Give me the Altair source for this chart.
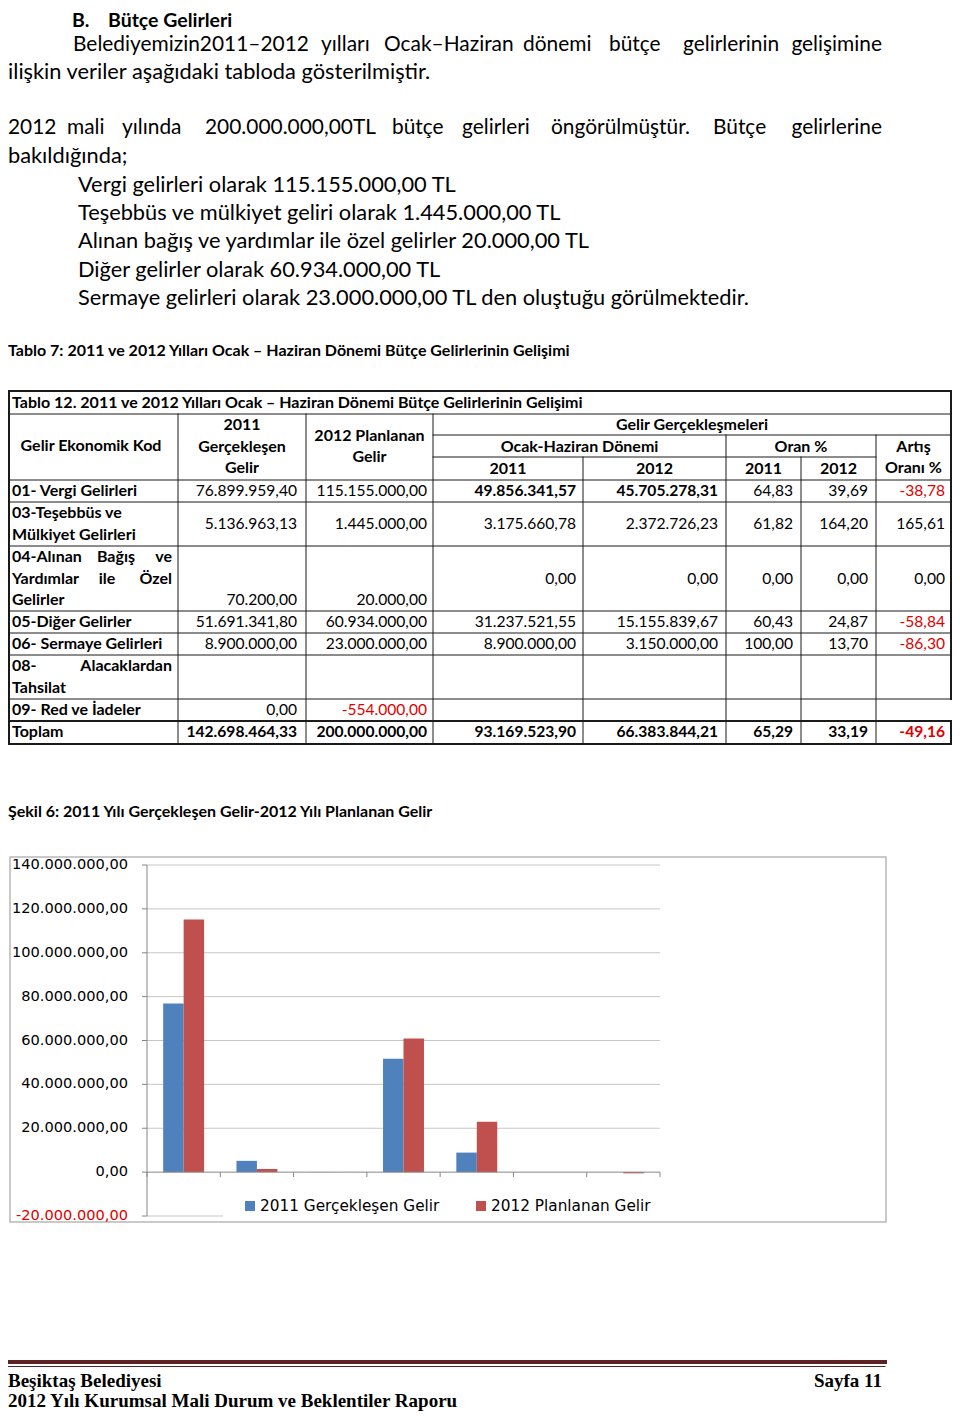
import altair as alt
import pandas as pd

OFF = 8  # page margin: page coordinate -> chart coordinate


def P(v):
    return v - OFF


BODY = "Lato"
CHARTF = "DejaVu Sans"
SERIF = "Liberation Serif"
BLUE = "#4f81bd"
RED = "#c0504d"
NEG = "#e00000"
INK = "#000000"

# ------------------------------------------------------------------ data
baslik = ["B.", "Bütçe Gelirleri"]
p1_kelimeler = ["Belediyemizin2011–2012", "yılları", "Ocak–Haziran", "dönemi",
                "bütçe", "gelirlerinin", "gelişimine"]
p1_satir2 = "ilişkin veriler aşağıdaki tabloda gösterilmiştir."
p2_kelimeler = ["2012", "mali", "yılında", "200.000.000,00TL", "bütçe", "gelirleri",
                "öngörülmüştür.", "Bütçe", "gelirlerine"]
p2_satir2 = "bakıldığında;"
kalemler = [
    "Vergi gelirleri olarak 115.155.000,00 TL",
    "Teşebbüs ve mülkiyet geliri olarak  1.445.000,00 TL",
    "Alınan bağış ve yardımlar ile özel gelirler  20.000,00 TL",
    "Diğer gelirler olarak  60.934.000,00 TL",
    "Sermaye gelirleri olarak  23.000.000,00 TL den oluştuğu görülmektedir.",
]
tablo_basligi = "Tablo 7: 2011 ve 2012 Yılları Ocak – Haziran Dönemi Bütçe Gelirlerinin Gelişimi"
tablo_ic_baslik = "Tablo 12. 2011 ve 2012 Yılları Ocak – Haziran Dönemi Bütçe Gelirlerinin Gelişimi"
sekil_basligi = "Şekil 6: 2011 Yılı Gerçekleşen Gelir-2012 Yılı Planlanan Gelir"

# table header texts
h_kod = "Gelir Ekonomik Kod"
h_gerc = ["2011", "Gerçekleşen", "Gelir"]
h_plan = ["2012 Planlanan", "Gelir"]
h_grup = "Gelir Gerçekleşmeleri"
h_donem = "Ocak-Haziran Dönemi"
h_oran = "Oran %"
h_artis = ["Artış", "Oranı %"]
h_yillar = ["2011", "2012", "2011", "2012"]

# table rows
satir_etiketleri = [
    [["01- Vergi Gelirleri"]],
    [["03-Teşebbüs ve"], ["Mülkiyet Gelirleri"]],
    [["04-Alınan", "Bağış", "ve"], ["Yardımlar", "ile", "Özel"], ["Gelirler"]],
    [["05-Diğer Gelirler"]],
    [["06- Sermaye Gelirleri"]],
    [["08-", "Alacaklardan"], ["Tahsilat"]],
    [["09- Red ve İadeler"]],
    [["Toplam"]],
]
gerceklesen_2011 = ["76.899.959,40", "5.136.963,13", "70.200,00", "51.691.341,80",
                    "8.900.000,00", "", "0,00", "142.698.464,33"]
planlanan_2012 = ["115.155.000,00", "1.445.000,00", "20.000,00", "60.934.000,00",
                  "23.000.000,00", "", "-554.000,00", "200.000.000,00"]
donem_2011 = ["49.856.341,57", "3.175.660,78", "0,00", "31.237.521,55",
              "8.900.000,00", "", "", "93.169.523,90"]
donem_2012 = ["45.705.278,31", "2.372.726,23", "0,00", "15.155.839,67",
              "3.150.000,00", "", "", "66.383.844,21"]
oran_2011 = ["64,83", "61,82", "0,00", "60,43", "100,00", "", "", "65,29"]
oran_2012 = ["39,69", "164,20", "0,00", "24,87", "13,70", "", "", "33,19"]
artis_orani = ["-38,78", "165,61", "0,00", "-58,84", "-86,30", "", "", "-49,16"]
kalin_hucreler = {(0, 2), (0, 3)}  # (row, value column) drawn bold; last row all bold

# chart data
kodlar = ["01", "03", "04", "05", "06", "08", "09"]
seriler = ["2011 Gerçekleşen Gelir", "2012 Planlanan Gelir"]
gelir_2011 = [76899959.40, 5136963.13, 70200.00, 51691341.80, 8900000.00, None, 0.0]
gelir_2012 = [115155000.0, 1445000.0, 20000.0, 60934000.0, 23000000.0, None, -554000.0]
y_tick_degerleri = [-20000000, 0, 20000000, 40000000, 60000000, 80000000,
                    100000000, 120000000, 140000000]
y_tick_etiketleri = ["-20.000.000,00", "0,00", "20.000.000,00", "40.000.000,00",
                     "60.000.000,00", "80.000.000,00", "100.000.000,00",
                     "120.000.000,00", "140.000.000,00"]

footer_sol = ["Beşiktaş Belediyesi", "2012 Yılı Kurumsal Mali Durum ve Beklentiler Raporu"]
footer_sag = "Sayfa 11"

# ------------------------------------------------------------------ helpers
ONE = pd.DataFrame({"k": [0]})


def text_layer(rows, size, weight="normal", align="left", font=BODY):
    df = pd.DataFrame(rows, columns=["t", "x", "y", "c"])
    df["x"] = df["x"] - OFF
    df["y"] = df["y"] - OFF
    return alt.Chart(df).mark_text(
        font=font, fontSize=size, fontWeight=weight, align=align, baseline="middle"
    ).encode(
        x=alt.X("x:Q", scale=None, axis=None),
        y=alt.Y("y:Q", scale=None, axis=None),
        text=alt.Text("t:N"),
        color=alt.Color("c:N", scale=None, legend=None),
    )


def segs_layer(segs, color):
    df = pd.DataFrame(segs, columns=["x", "x2", "y", "y2", "w"])
    for c in ["x", "x2", "y", "y2"]:
        df[c] = df[c] - OFF
    return alt.Chart(df).mark_rule(color=color, strokeCap="square").encode(
        x=alt.X("x:Q", scale=None, axis=None), x2="x2:Q",
        y=alt.Y("y:Q", scale=None, axis=None), y2="y2:Q",
        strokeWidth=alt.StrokeWidth("w:Q", scale=None, legend=None),
    )


layers = []
LEFT = 8  # leftmost reachable page x

# ------------------------------------------------------------------ prose
BODY_SIZE = 21.8
JUST_SIZE = 20.9
layers.append(text_layer([(baslik[0], 72, 20.5, INK), (baslik[1], 108, 20.5, INK)], 19.5, "bold"))

P1_X = [73, 321, 384, 523, 609, 683]
P2_X = [LEFT, 67, 122, 205, 392, 462, 551, 713]
RIGHT = 882
L1_Y = 45
just_left, just_right, prose_left = [], [], []
for w, x in zip(p1_kelimeler[:-1], P1_X):
    just_left.append((w, x, L1_Y, INK))
just_right.append((p1_kelimeler[-1], RIGHT, L1_Y, INK))
prose_left.append((p1_satir2, LEFT, 71.5, INK))
for w, x in zip(p2_kelimeler[:-1], P2_X):
    just_left.append((w, x, 128, INK))
just_right.append((p2_kelimeler[-1], RIGHT, 128, INK))
prose_left.append((p2_satir2, LEFT, 156, INK))
for i, k in enumerate(kalemler):
    prose_left.append((k, 78, 185 + i * 28.2, INK))
layers.append(text_layer(prose_left, BODY_SIZE))
layers.append(text_layer(just_left, JUST_SIZE))
layers.append(text_layer(just_right, JUST_SIZE, align="right"))
layers.append(text_layer([(tablo_basligi, LEFT, 351, INK), (sekil_basligi, LEFT, 812, INK)],
                         16, "bold"))

# ------------------------------------------------------------------ table
TL = 9
TR = 951
ROWS = [480, 502, 546, 611, 633, 655, 699, 721, 744]
NUM_RIGHT = [297, 427, 576, 718, 793, 868, TR - 6]
PITCH = 21.7
LAB_X = 12
TXT = 16
NUM = 15.6

segs = []
# outer frame
segs += [(TL, TR, 391, 391, 2), (TL, TL, 391, 744, 2), (TR, TR, 391, 699, 2),
         (TL, TR, 744, 744, 2), (TR, TR, 721, 744, 2), (TL, TR, 721, 721, 2)]
# header lines
segs += [(TL, TR, 414, 414, 1), (433, TR, 435, 435, 1), (433, 876, 457, 457, 1),
         (TL, TR, 480, 480, 1)]
for yy in ROWS[1:-2]:
    segs.append((TL, TR, yy, yy, 1))
for xx in [178, 306, 433]:
    segs.append((xx, xx, 414, 744, 1))
segs += [(583, 583, 457, 744, 1), (726, 726, 435, 744, 1), (801, 801, 457, 744, 1),
         (876, 876, 435, 744, 1)]
layers.append(segs_layer(segs, "#1a1a1a"))

hdr = [(tablo_ic_baslik, LAB_X, 402.5, INK)]
layers.append(text_layer(hdr, TXT, "bold"))
hdr_c = [(h_kod, 91, 446, INK)]
for i, t in enumerate(h_gerc):
    hdr_c.append((t, 242, 425 + i * PITCH, INK))
for i, t in enumerate(h_plan):
    hdr_c.append((t, 369.5, 435.5 + i * PITCH, INK))
hdr_c.append((h_grup, (433 + TR) / 2, 425, INK))
hdr_c.append((h_donem, 579.5, 446.5, INK))
hdr_c.append((h_oran, 801, 446.5, INK))
for i, t in enumerate(h_artis):
    hdr_c.append((t, (876 + TR) / 2, 446.5 + i * PITCH, INK))
for t, (a, b) in zip(h_yillar, [(433, 583), (583, 726), (726, 801), (801, 876)]):
    hdr_c.append((t, (a + b) / 2, 468.5, INK))
layers.append(text_layer(hdr_c, TXT, "bold", align="center"))

lab_l, lab_c, lab_r = [], [], []
MID_WORD_X = {(2, 0): 116, (2, 1): 107}
for r, lines in enumerate(satir_etiketleri):
    top = ROWS[r] if r < 7 else 721
    for k, words in enumerate(lines):
        yy = top + 11 + k * PITCH
        lab_l.append((words[0], LAB_X, yy, INK))
        if len(words) > 1:
            lab_r.append((words[-1], 172, yy, INK))
        if len(words) == 3:
            lab_c.append((words[1], MID_WORD_X[(r, k)], yy, INK))
layers.append(text_layer(lab_l, TXT, "bold"))
layers.append(text_layer(lab_c, TXT, "bold", align="center"))
layers.append(text_layer(lab_r, TXT, "bold", align="right"))

value_cols = [gerceklesen_2011, planlanan_2012, donem_2011, donem_2012,
              oran_2011, oran_2012, artis_orani]
num_reg, num_bold = [], []
for r, lines in enumerate(satir_etiketleri):
    top = ROWS[r] if r < 7 else 721
    n = len(lines)
    for c, col in enumerate(value_cols):
        v = col[r]
        if not v:
            continue
        if n == 3:
            yy = top + 11 + (2 if c < 2 else 1) * PITCH
        else:
            yy = top + 11 + (n - 1) * PITCH / 2
        colr = NEG if v.startswith("-") else INK
        item = (v, NUM_RIGHT[c], yy, colr)
        if r == 7 or (r, c) in kalin_hucreler:
            num_bold.append(item)
        else:
            num_reg.append(item)
layers.append(text_layer(num_reg, NUM, "normal", align="right"))
layers.append(text_layer(num_bold, NUM, "bold", align="right"))

# ------------------------------------------------------------------ bar chart
xscale = alt.Scale(domain=kodlar, range=[P(147), P(660)], paddingInner=0, paddingOuter=0)
yscale = alt.Scale(domain=[-20000000, 140000000], range=[P(1216), P(865)], nice=False, zero=False)

frame = alt.Chart(ONE).mark_rect(fillOpacity=0, stroke="#b8b8b8", strokeWidth=1.5).encode(
    x=alt.value(P(10)), x2=alt.value(P(886)), y=alt.value(P(857)), y2=alt.value(P(1222)))
layers.append(frame)

grid_df = pd.DataFrame({"v": [v for v in y_tick_degerleri if v > 0]})
layers.append(alt.Chart(grid_df).mark_rule(color="#c6c6c6", strokeWidth=1).encode(
    y=alt.Y("v:Q", scale=yscale, axis=None), x=alt.value(P(147)), x2=alt.value(P(660))))
neg_df = pd.DataFrame({"v": [y_tick_degerleri[0]]})
layers.append(alt.Chart(neg_df).mark_rule(color="#c6c6c6", strokeWidth=1).encode(
    y=alt.Y("v:Q", scale=yscale, axis=None), x=alt.value(P(147)), x2=alt.value(P(223))))

bar_df = pd.DataFrame({
    "kod": kodlar * 2,
    "seri": [seriler[0]] * len(kodlar) + [seriler[1]] * len(kodlar),
    "deger": gelir_2011 + gelir_2012,
}).dropna()
layers.append(alt.Chart(bar_df).mark_bar().encode(
    x=alt.X("kod:N", scale=xscale, axis=None, sort=kodlar),
    xOffset=alt.XOffset("seri:N", sort=seriler,
                        scale=alt.Scale(domain=seriler, paddingInner=0, paddingOuter=0.79)),
    y=alt.Y("deger:Q", scale=yscale, axis=None),
    y2=alt.datum(0),
    color=alt.Color("seri:N", scale=alt.Scale(domain=seriler, range=[BLUE, RED]), legend=None),
))

# axes
tick_df = pd.DataFrame({"v": y_tick_degerleri, "lab": y_tick_etiketleri,
                        "c": [NEG if v < 0 else INK for v in y_tick_degerleri]})
layers.append(alt.Chart(tick_df).mark_rule(color="#868686").encode(
    y=alt.Y("v:Q", scale=yscale, axis=None), x=alt.value(P(142)), x2=alt.value(P(147))))
layers.append(alt.Chart(ONE).mark_rule(color="#868686").encode(
    x=alt.value(P(147)),
    y=alt.Y(datum=140000000, scale=yscale, axis=None), y2=alt.datum(-20000000)))
layers.append(alt.Chart(ONE).mark_rule(color="#868686").encode(
    y=alt.Y(datum=0, scale=yscale, axis=None), x=alt.value(P(147)), x2=alt.value(P(660))))
kod_df = pd.DataFrame({"kod": kodlar})
layers.append(alt.Chart(kod_df).mark_rule(color="#868686").encode(
    x=alt.X("kod:N", scale=xscale, axis=None, bandPosition=0, sort=kodlar),
    y=alt.Y(datum=0, scale=yscale, axis=None), y2=alt.value(P(1177))))
layers.append(alt.Chart(pd.DataFrame({"kod": [kodlar[-1]]})).mark_rule(color="#868686").encode(
    x=alt.X("kod:N", scale=xscale, axis=None, bandPosition=1, sort=kodlar),
    y=alt.Y(datum=0, scale=yscale, axis=None), y2=alt.value(P(1177))))
layers.append(alt.Chart(tick_df).mark_text(font=CHARTF, fontSize=14.6, align="right",
                                           baseline="middle").encode(
    y=alt.Y("v:Q", scale=yscale, axis=None), x=alt.value(P(128)), text="lab:N",
    color=alt.Color("c:N", scale=None, legend=None)))
layers.append(alt.Chart(kod_df).mark_text(font=CHARTF, fontSize=14, baseline="middle").encode(
    x=alt.X("kod:N", scale=xscale, axis=None, sort=kodlar), y=alt.value(P(1194))))

# legend
for col, x0, lab in [(BLUE, 245, seriler[0]), (RED, 476, seriler[1])]:
    layers.append(alt.Chart(ONE).mark_rect(color=col).encode(
        x=alt.value(P(x0)), x2=alt.value(P(x0 + 10)), y=alt.value(P(1201)), y2=alt.value(P(1211))))
leg = [(seriler[0], 260, 1206, INK), (seriler[1], 491, 1206, INK)]
layers.append(text_layer(leg, 15.3, font=CHARTF))

# ------------------------------------------------------------------ footer
foot = [(LEFT, 885, 1362, 1362, 4), (LEFT, 885, 1366.5, 1366.5, 1)]
layers.append(segs_layer(foot, "#5e2222"))
layers.append(text_layer([(footer_sol[0], LEFT, 1381, INK), (footer_sol[1], LEFT, 1401, INK)],
                         19, "bold", font=SERIF))
layers.append(text_layer([(footer_sag, 882, 1381, INK)], 19, "bold", align="right", font=SERIF))

chart = alt.layer(*layers).properties(
    width=944, height=1403, padding=0, autosize=alt.AutoSizeParams(type="none")
).configure_view(stroke=None)

chart.save("out.html", embed_options={"renderer": "svg", "actions": False})
